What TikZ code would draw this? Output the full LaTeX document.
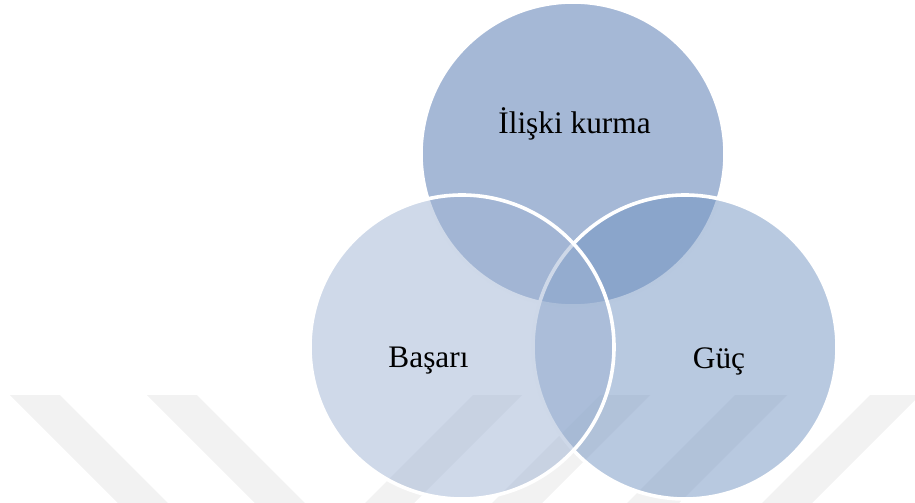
\documentclass[tikz,border=0pt]{standalone}
\usepackage{fontspec}
\setmainfont{Liberation Serif}
\definecolor{ctop}{RGB}{75,113,173}
\definecolor{cright}{RGB}{113,147,193}
\definecolor{cleft}{RGB}{159,179,211}
\definecolor{wmark}{RGB}{242,242,242}
\begin{document}
\begin{tikzpicture}[x=0.75pt,y=-0.75pt,
  venn/.style={circle, minimum size=228pt, inner sep=0pt, draw=white, line width=2.7pt, fill opacity=0.5, draw opacity=1},
  lbl/.style={font=\fontsize{23.5}{28}\selectfont, anchor=base, text=black},
  stripe/.style={fill=wmark}]
\useasboundingbox (0,0) rectangle (915,503);
% watermark stripes
\fill[stripe] (10,395) -- (60,395) -- (168,503) -- (118,503) -- cycle;
\fill[stripe] (147,395) -- (197,395) -- (305,503) -- (255,503) -- cycle;
\fill[stripe] (473,395) -- (522,395) -- (414,503) -- (365,503) -- cycle;
\fill[stripe] (600,395) -- (650,395) -- (542,503) -- (492,503) -- cycle;
\fill[stripe] (735,395) -- (787,395) -- (679,503) -- (627,503) -- cycle;
\fill[stripe] (870,395) -- (920,395) -- (812,503) -- (762,503) -- cycle;
% circles
\node[venn, fill=ctop] (topc) at (573,154) {};
\node[venn, fill=cright] (rightc) at (685,347) {};
\node[venn, fill=cleft] (leftc) at (462,347) {};
% labels
\node[lbl] (ltop) at (574.5,133) {İlişki kurma};
\node[lbl] (lleft) at (428.5,367) {Başarı};
\node[lbl] (lright) at (719,368) {Güç};
\end{tikzpicture}
\end{document}
